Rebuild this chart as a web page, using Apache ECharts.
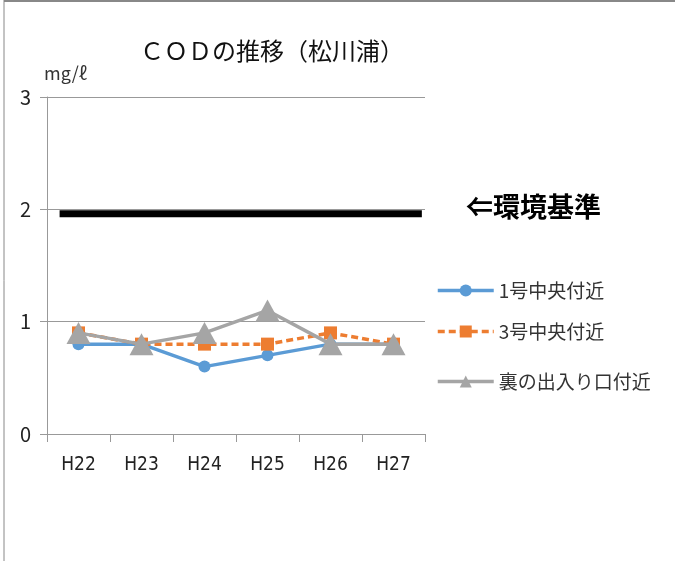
<!DOCTYPE html>
<html>
<head>
<meta charset="utf-8">
<script src="https://cdn.jsdelivr.net/npm/echarts@6/dist/echarts.min.js"></script>
<style>
  html, body { margin: 0; padding: 0; background: #fff; }
  #chart { width: 675px; height: 561px; }
</style>
</head>
<body>
<div id="chart"></div>
<script>
// data
const years = ['H22', 'H23', 'H24', 'H25', 'H26', 'H27'];
const site1 = [0.8, 0.8, 0.6, 0.7, 0.8, 0.8];      // 1号中央付近
const site3 = [0.9, 0.8, 0.8, 0.8, 0.9, 0.8];      // 3号中央付近
const siteBack = [0.9, 0.8, 0.9, 1.1, 0.8, 0.8];   // 裏の出入り口付近
const standardValue = 1.96;                        // 環境基準
const yTicks = [0, 1, 2, 3];

const font = '"Noto Sans CJK JP", "Noto Sans", sans-serif';
const chart = echarts.init(document.getElementById('chart'));

const legendBase = {
  orient: 'vertical',
  left: 431,
  itemWidth: 56,
  itemHeight: 15,
  lineStyle: { width: 3.5 },
  textStyle: { fontFamily: font, fontSize: 19, color: '#333' },
  selectedMode: false
};

chart.setOption({
  animation: false,
  title: {
    text: 'ＣＯＤの推移（松川浦）',
    left: 267,
    textAlign: 'center',
    top: 34,
    textStyle: { fontFamily: font, fontSize: 24, fontWeight: 'normal', color: '#111' }
  },
  legend: [
    Object.assign({ top: 276, data: ['1号中央付近'] }, legendBase),
    Object.assign({ top: 317, data: ['3号中央付近'] }, legendBase),
    Object.assign({ top: 367, data: ['裏の出入り口付近'] }, legendBase)
  ],
  graphic: [
    { type: 'line', shape: { x1: 4, y1: 0, x2: 4, y2: 561 }, style: { stroke: '#888', lineWidth: 1 } },
    { type: 'line', shape: { x1: 4, y1: 1, x2: 675, y2: 1 }, style: { stroke: '#888', lineWidth: 2 } },
    {
      type: 'text', left: 466, top: 193,
      style: { text: '⇐環境基準', font: 'bold 27px ' + font, fill: '#000' }
    }
  ],
  grid: { left: 47, right: 250, top: 97, bottom: 127 },
  xAxis: [
    {
      type: 'category',
      data: years,
      boundaryGap: true,
      axisLine: { lineStyle: { color: '#999', width: 1 } },
      axisTick: { show: true, length: 8, lineStyle: { color: '#999' } },
      axisLabel: { fontFamily: '"DejaVu Sans Condensed", "Liberation Sans Narrow", sans-serif', fontSize: 19, color: '#222', margin: 22 }
    },
    { type: 'value', min: 0, max: 6, show: false }
  ],
  yAxis: {
    type: 'value',
    min: yTicks[0],
    max: yTicks[yTicks.length - 1],
    interval: 1,
    name: 'mg/ℓ',
    nameLocation: 'end',
    nameGap: 15,
    nameTextStyle: { fontFamily: font, fontSize: 18, color: '#333', align: 'left', padding: [0, 0, 0, -3] },
    axisLine: { show: true, lineStyle: { color: '#999' } },
    axisTick: { show: true, length: 7, lineStyle: { color: '#999' } },
    axisLabel: { fontFamily: font, fontSize: 20, color: '#222', margin: 16 },
    splitLine: { lineStyle: { color: '#999', width: 1 } }
  },
  series: [
    {
      name: '環境基準',
      type: 'line',
      xAxisIndex: 1,
      data: [[0.2, standardValue], [5.95, standardValue]],
      symbol: 'none',
      lineStyle: { color: '#000', width: 7 },
      z: 1
    },
    {
      name: '1号中央付近',
      type: 'line',
      data: site1,
      symbol: 'circle',
      symbolSize: 12,
      itemStyle: { color: '#5B9BD5' },
      lineStyle: { color: '#5B9BD5', width: 3.5 },
      z: 2
    },
    {
      name: '3号中央付近',
      type: 'line',
      data: site3,
      symbol: 'rect',
      symbolSize: 13,
      itemStyle: { color: '#ED7D31' },
      lineStyle: { color: '#ED7D31', width: 3.5, type: [7, 4] },
      z: 3
    },
    {
      name: '裏の出入り口付近',
      type: 'line',
      data: siteBack,
      symbol: 'triangle',
      symbolSize: [24, 22],
      itemStyle: { color: '#A5A5A5' },
      lineStyle: { color: '#A5A5A5', width: 3.5 },
      z: 4
    }
  ]
});
</script>
</body>
</html>
